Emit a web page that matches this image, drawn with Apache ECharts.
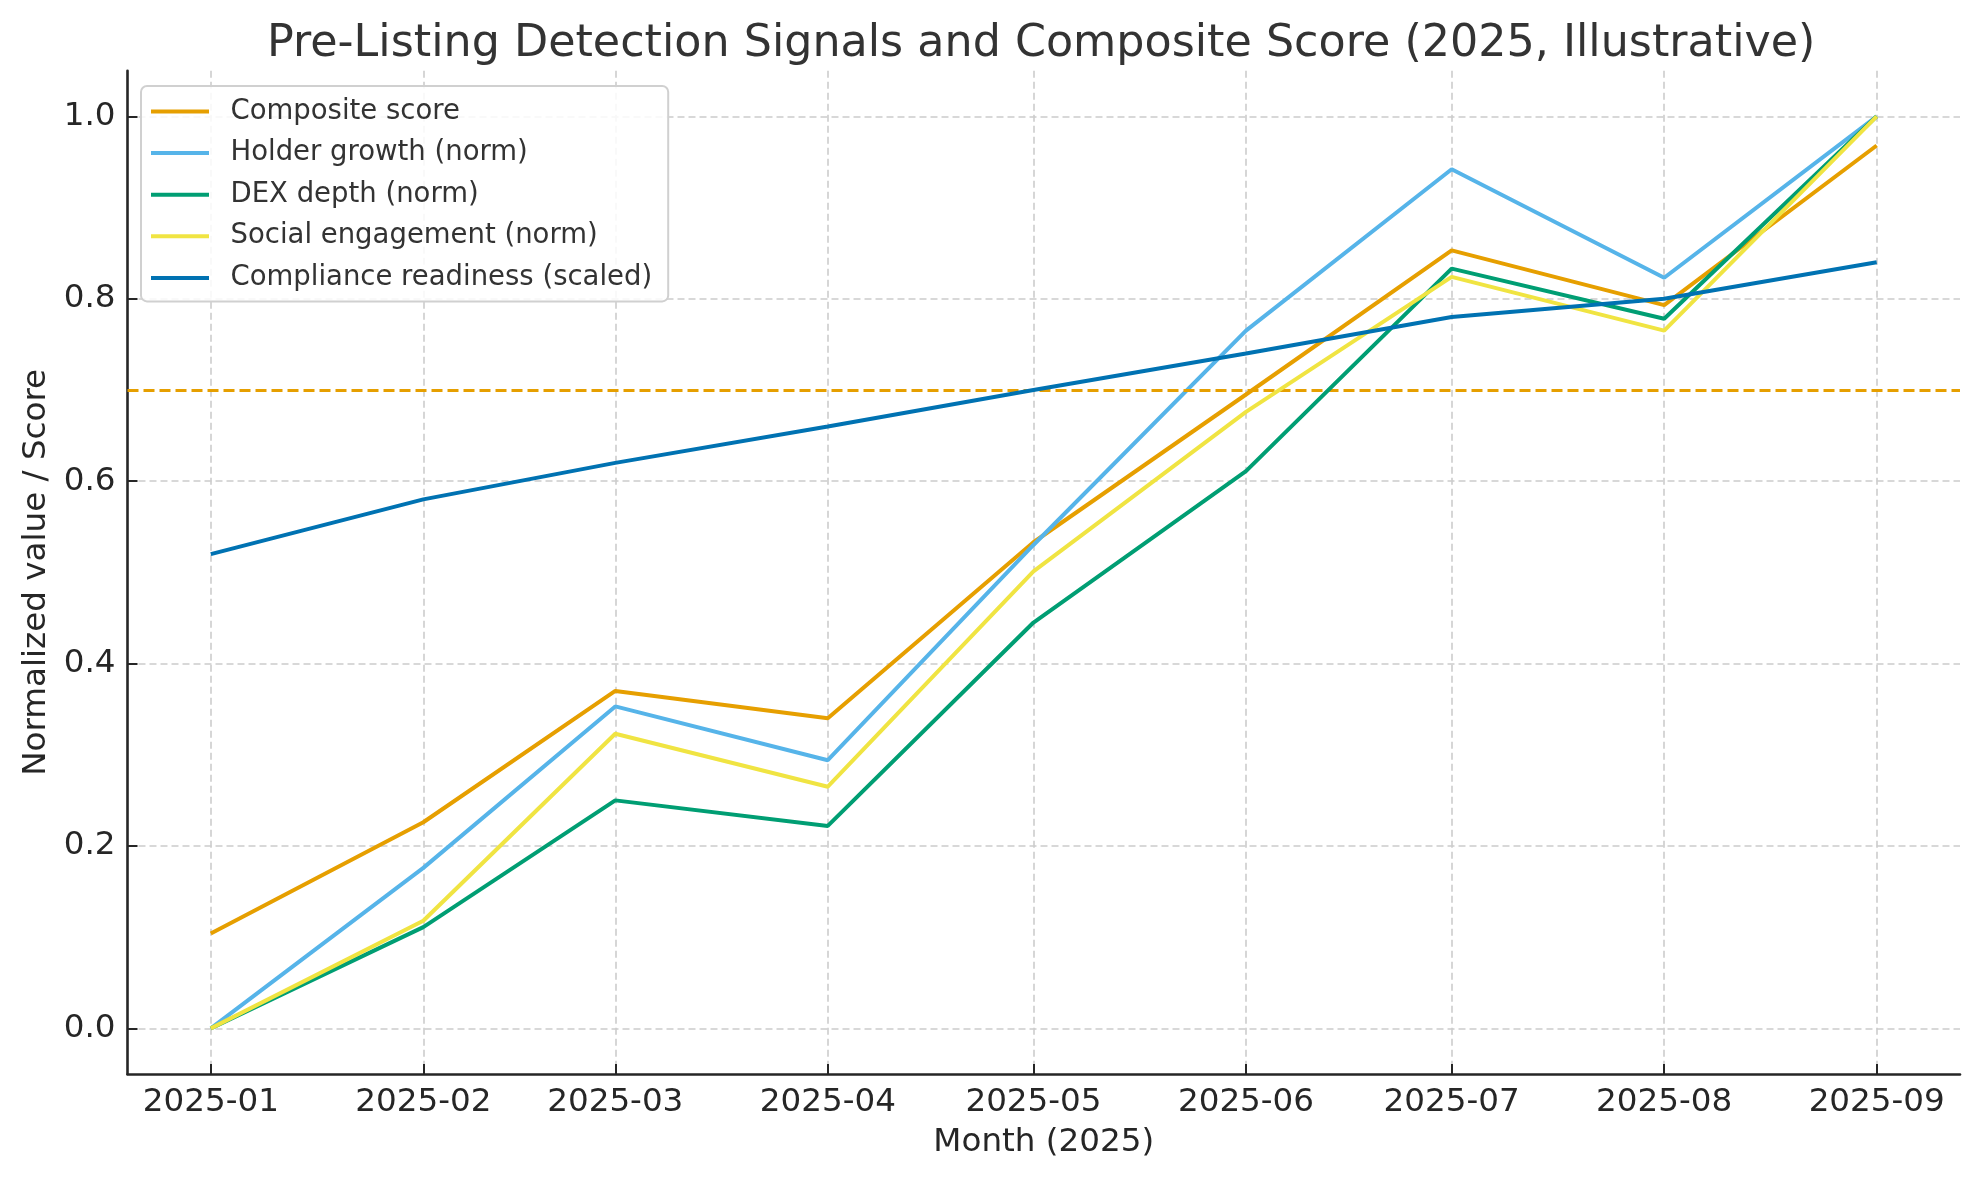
<!DOCTYPE html>
<html>
<head>
<meta charset="utf-8">
<script src="https://cdn.jsdelivr.net/npm/echarts@6/dist/echarts.min.js"></script>
<style>
html,body{margin:0;padding:0;background:#fff;}
#chart{width:1979px;height:1180px;}
</style>
</head>
<body>
<div id="chart"></div>
<script>
const months = ['2025-01','2025-02','2025-03','2025-04','2025-05','2025-06','2025-07','2025-08','2025-09'];
const composite = [0.104, 0.226, 0.370, 0.340, 0.533, 0.695, 0.853, 0.793, 0.968];
const holderGrowth = [0.0, 0.176, 0.353, 0.294, 0.530, 0.765, 0.942, 0.823, 1.0];
const dexDepth = [0.0, 0.111, 0.250, 0.222, 0.445, 0.611, 0.833, 0.778, 1.0];
const socialEngagement = [0.0, 0.118, 0.323, 0.265, 0.501, 0.676, 0.824, 0.765, 1.0];
const complianceReadiness = [0.52, 0.58, 0.62, 0.66, 0.70, 0.74, 0.78, 0.80, 0.84];
const threshold = 0.7;
const yTicks = [0.0, 0.2, 0.4, 0.6, 0.8, 1.0];

const seriesNames = ['Composite score','Holder growth (norm)','DEX depth (norm)','Social engagement (norm)','Compliance readiness (scaled)'];
const seriesValues = [composite, holderGrowth, dexDepth, socialEngagement, complianceReadiness];
const colors = ['#E69F00','#56B4E9','#009E73','#F0E442','#0072B2'];

const FONT = 'DejaVu Sans';
function ts(m){ const p = m.split('-'); return Date.UTC(+p[0], +p[1]-1, 1); }
const monthTs = months.map(ts);
const span = monthTs[monthTs.length-1] - monthTs[0];
const xMin = monthTs[0] - span*0.05;
const xMax = monthTs[monthTs.length-1] + span*0.05;

function fmtMonth(v){
  const d = new Date(v);
  return d.getUTCFullYear() + '-' + String(d.getUTCMonth()+1).padStart(2,'0');
}

const chart = echarts.init(document.getElementById('chart'), null, {renderer:'canvas'});

const series = seriesNames.map((name, i) => {
  const s = {
    name: name,
    type: 'line',
    data: monthTs.map((t, k) => [t, seriesValues[i][k]]),
    symbol: 'none',
    showSymbol: false,
    lineStyle: {color: colors[i], width: 4},
    itemStyle: {color: colors[i]},
    z: 3 + i,
    animation: false
  };
  if (i === 0) {
    s.markLine = {
      silent: true,
      symbol: 'none',
      label: {show: false},
      lineStyle: {color: '#E69F00', type: [11, 5], width: 3},
      data: [{yAxis: threshold}],
      animation: false
    };
  }
  return s;
});

chart.setOption({
  animation: false,
  backgroundColor: '#ffffff',
  title: {
    text: 'Pre-Listing Detection Signals and Composite Score (2025, Illustrative)',
    left: 262,
    top: 17,
    textStyle: {fontFamily: FONT, fontSize: 44.4, fontWeight: 'normal', color: '#333333'}
  },
  legend: {
    orient: 'vertical',
    left: 141,
    top: 86,
    data: seriesNames,
    icon: 'rect',
    itemWidth: 58,
    itemHeight: 4,
    itemGap: 11.6,
    padding: [10.5, 16, 8.5, 10],
    backgroundColor: 'rgba(255,255,255,0.85)',
    borderColor: '#d0d0d0',
    borderWidth: 2,
    borderRadius: 6,
    textStyle: {fontFamily: FONT, fontSize: 27.5, color: '#333333', lineHeight: 30, padding: [0,0,0,16.5]}
  },
  grid: {left: 127.5, right: 19, top: 70.7, bottom: 106, containLabel: false},
  xAxis: {
    type: 'value',
    min: xMin,
    max: xMax,
    scale: true,
    name: 'Month (2025)',
    nameLocation: 'middle',
    nameGap: 52.5,
    nameTextStyle: {fontFamily: FONT, fontSize: 32.6, color: '#262626'},
    axisLine: {show: true, onZero: false, lineStyle: {color: '#262626', width: 2.6}},
    axisTick: {show: true, inside: true, length: 10, lineStyle: {color: '#262626', width: 2}, customValues: monthTs},
    axisLabel: {show: true, customValues: monthTs, formatter: fmtMonth, fontFamily: FONT, fontSize: 32.6, color: '#262626', margin: 12, hideOverlap: false},
    splitLine: {show: true, lineStyle: {color: '#cccccc', type: [7, 4], width: 1.6}}
  },
  yAxis: {
    type: 'value',
    min: -0.05,
    max: 1.05,
    name: 'Normalized value / Score',
    nameLocation: 'middle',
    nameGap: 73.5,
    nameTextStyle: {fontFamily: FONT, fontSize: 32.6, color: '#262626'},
    axisLine: {show: true, onZero: false, lineStyle: {color: '#262626', width: 2.6}},
    axisTick: {show: true, inside: true, length: 10, lineStyle: {color: '#262626', width: 2}, customValues: yTicks},
    axisLabel: {show: true, customValues: yTicks, formatter: v => v.toFixed(1), fontFamily: FONT, fontSize: 32.6, color: '#262626', margin: 12},
    splitLine: {show: true, lineStyle: {color: '#cccccc', type: [7, 4], width: 1.6}}
  },
  series: series
});
</script>
</body>
</html>
